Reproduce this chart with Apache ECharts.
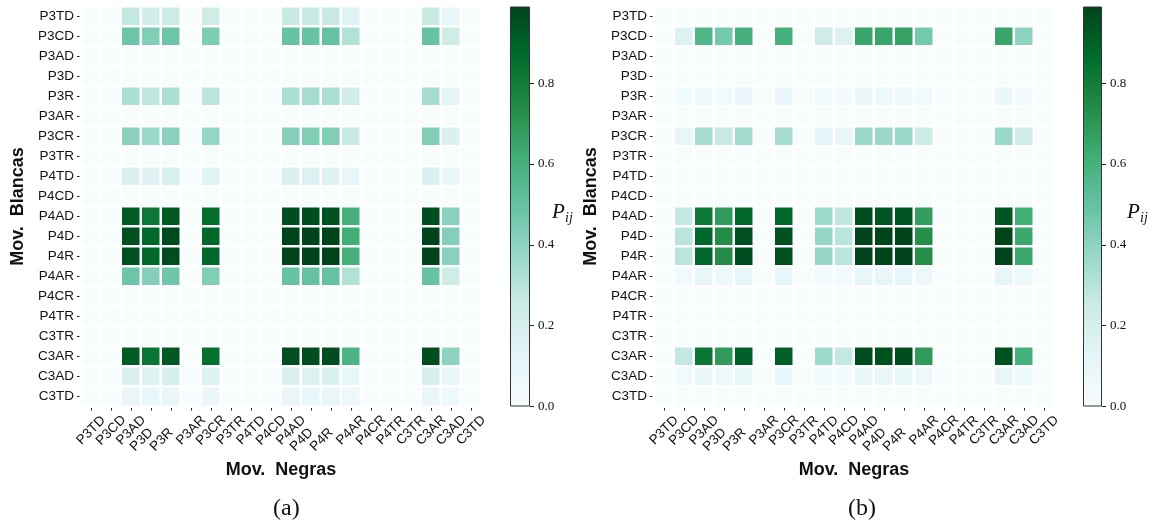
<!DOCTYPE html>
<html>
<head>
<meta charset="utf-8">
<script src="https://cdn.jsdelivr.net/npm/echarts@6/dist/echarts.min.js"></script>
<style>
  html, body { margin: 0; padding: 0; background: #fff; }
  #chart { width: 1152px; height: 527px; }
</style>
</head>
<body>
<div id="chart"></div>
<script>
// Move categories (rows: white moves, columns: black moves)
const moves = ['P3TD','P3CD','P3AD','P3D','P3R','P3AR','P3CR','P3TR','P4TD','P4CD',
               'P4AD','P4D','P4R','P4AR','P4CR','P4TR','C3TR','C3AR','C3AD','C3TD'];

// Colour bar ticks and range
const colorbarTicks = [0, 0.2, 0.4, 0.6, 0.8];
const colorMax = 0.99;

// BuGn palette
const bugn = ['#f7fcfd','#e5f5f9','#ccece6','#99d8c9','#66c2a4','#41ae76','#238b45','#006d2c','#00441b'];

// Panel (a): probability P_ij, one row per white move
const z = 0;
const panelA = [
  [z,z,.27,.22,.25,z,.24,z,z,z,.26,.26,.26,.15,z,z,z,.26,.10,z], // P3TD
  [z,z,.48,.43,.48,z,.44,z,z,z,.49,.49,.50,.31,z,z,z,.49,.24,z], // P3CD
  [z,z,z,z,z,z,z,z,z,z,z,z,z,z,z,z,z,z,z,z],                       // P3AD
  [z,z,z,z,z,z,z,z,z,z,z,z,z,z,z,z,z,z,z,z],                       // P3D
  [z,z,.33,.28,.33,z,.29,z,z,z,.33,.34,.33,.22,z,z,z,.34,.13,z], // P3R
  [z,z,z,z,z,z,z,z,z,z,z,z,z,z,z,z,z,z,z,z],                       // P3AR
  [z,z,.41,.37,.41,z,.38,z,z,z,.42,.43,.43,.26,z,z,z,.43,.18,z], // P3CR
  [z,z,z,z,z,z,z,z,z,z,z,z,z,z,z,z,z,z,z,z],                       // P3TR
  [z,z,.18,.16,.19,z,.15,z,z,z,.18,.17,.17,.10,z,z,z,.19,.08,z], // P4TD
  [z,z,z,z,z,z,z,z,z,z,z,z,z,z,z,z,z,z,z,z],                       // P4CD
  [z,z,.92,.82,.93,z,.86,z,z,z,.96,.96,.95,.60,z,z,z,.96,.41,z], // P4AD
  [z,z,.95,.88,.97,z,.88,z,z,z,.99,.99,.99,.62,z,z,z,.99,.42,z], // P4D
  [z,z,.95,.88,.96,z,.88,z,z,z,.99,.99,.99,.61,z,z,z,.99,.41,z], // P4R
  [z,z,.48,.42,.47,z,.43,z,z,z,.49,.50,.50,.31,z,z,z,.49,.24,z], // P4AR
  [z,z,z,z,z,z,z,z,z,z,z,z,z,z,z,z,z,z,z,z],                       // P4CR
  [z,z,z,z,z,z,z,z,z,z,z,z,z,z,z,z,z,z,z,z],                       // P4TR
  [z,z,z,z,z,z,z,z,z,z,z,z,z,z,z,z,z,z,z,z],                       // C3TR
  [z,z,.92,.83,.93,z,.85,z,z,z,.96,.96,.96,.58,z,z,z,.96,.40,z], // C3AR
  [z,z,.18,.16,.20,z,.16,z,z,z,.18,.17,.18,.11,z,z,z,.20,.09,z], // C3AD
  [z,z,.10,.09,.10,z,.08,z,z,z,.10,.09,.10,.07,z,z,z,.10,.06,z]  // C3TD
];

// Panel (b): probability P_ij, one row per white move
const panelB = [
  [z,z,z,z,z,z,z,z,z,z,z,z,z,z,z,z,z,z,z,z],                                // P3TD
  [z,.17,.57,.46,.60,z,.60,z,.24,.16,.65,.65,.66,.46,z,z,z,.65,.40,z],     // P3CD
  [z,z,z,z,z,z,z,z,z,z,z,z,z,z,z,z,z,z,z,z],                                // P3AD
  [z,z,z,z,z,z,z,z,z,z,z,z,z,z,z,z,z,z,z,z],                                // P3D
  [z,.04,.07,.05,.08,z,.08,z,.04,.03,.08,.07,.07,.05,z,z,z,.08,.05,z],     // P3R
  [z,z,z,z,z,z,z,z,z,z,z,z,z,z,z,z,z,z,z,z],                                // P3AR
  [z,.10,.34,.26,.35,z,.34,z,.12,.09,.37,.37,.37,.25,z,z,z,.37,.24,z],     // P3CR
  [z,z,z,z,z,z,z,z,z,z,z,z,z,z,z,z,z,z,z,z],                                // P3TR
  [z,z,z,z,z,z,z,z,z,z,z,z,z,z,z,z,z,z,z,z],                                // P4TD
  [z,z,z,z,z,z,z,z,z,z,z,z,z,z,z,z,z,z,z,z],                                // P4CD
  [z,.27,.82,.69,.88,z,.88,z,.36,.28,.96,.94,.94,.68,z,z,z,.94,.62,z],     // P4AD
  [z,.29,.88,.74,.96,z,.95,z,.38,.29,.99,.99,.99,.73,z,z,z,.99,.64,z],     // P4D
  [z,.29,.88,.74,.96,z,.95,z,.38,.29,.99,.99,.99,.73,z,z,z,.99,.64,z],     // P4R
  [z,.05,.10,.07,.11,z,.11,z,.05,.04,.11,.10,.10,.07,z,z,z,.11,.07,z],     // P4AR
  [z,z,z,z,z,z,z,z,z,z,z,z,z,z,z,z,z,z,z,z],                                // P4CR
  [z,z,z,z,z,z,z,z,z,z,z,z,z,z,z,z,z,z,z,z],                                // P4TR
  [z,z,z,z,z,z,z,z,z,z,z,z,z,z,z,z,z,z,z,z],                                // C3TR
  [z,.27,.83,.69,.91,z,.91,z,.36,.27,.96,.95,.96,.69,z,z,z,.95,.60,z],     // C3AR
  [z,.05,.09,.07,.10,z,.10,z,.05,.04,.10,.09,.09,.07,z,z,z,.10,.07,z],     // C3AD
  [z,z,z,z,z,z,z,z,z,z,z,z,z,z,z,z,z,z,z,z]                                 // C3TD
];

function toCells(matrix) {
  const out = [];
  matrix.forEach((row, r) => row.forEach((v, c) => out.push([c, r, v])));
  return out;
}

const sans = 'Liberation Sans';
const serif = 'Liberation Serif';

// Rotated x labels are centred on their tick with a common top edge;
// three-letter names get a small padding so their top lines up too.
const xCategoryItems = moves.map(m => m.length === 3
  ? { value: m, textStyle: { padding: [0, 0, 4, 4] } }
  : m);

function heatX(gridIndex) {
  return {
    type: 'category', gridIndex, data: xCategoryItems,
    axisLine: { show: false },
    axisTick: { show: true, alignWithLabel: true, length: 4, lineStyle: { color: '#222', width: 1 } },
    axisLabel: { rotate: 45, align: 'center', verticalAlign: 'middle', margin: 24,
                 fontFamily: sans, fontSize: 13.5, color: '#111', interval: 0 },
    splitArea: { show: false }, splitLine: { show: false },
    name: 'Mov.  Negras', nameLocation: 'middle', nameGap: 50,
    nameTextStyle: { fontFamily: sans, fontWeight: 'bold', fontSize: 18, color: '#111' }
  };
}
function heatY(gridIndex) {
  return {
    type: 'category', gridIndex, data: moves, inverse: true,
    axisLine: { show: false },
    axisTick: { show: true, alignWithLabel: true, length: 4, lineStyle: { color: '#222', width: 1 } },
    axisLabel: { margin: 7, fontFamily: sans, fontSize: 13.5, color: '#111', interval: 0 },
    splitArea: { show: false }, splitLine: { show: false },
    name: 'Mov.  Blancas', nameLocation: 'middle', nameGap: 54, nameRotate: 90,
    nameTextStyle: { fontFamily: sans, fontWeight: 'bold', fontSize: 18, color: '#111' }
  };
}
function barX(gridIndex) {
  return { type: 'category', gridIndex, data: [''], show: false };
}
function barY(gridIndex) {
  return {
    type: 'value', gridIndex, min: 0, max: colorMax, position: 'right',
    axisLine: { show: false },
    axisTick: { show: true, length: 4, customValues: colorbarTicks, lineStyle: { color: '#222' } },
    axisLabel: { customValues: colorbarTicks, margin: 8, fontFamily: serif, fontSize: 13, color: '#111',
                 formatter: v => v.toFixed(1) },
    splitLine: { show: false }
  };
}

const gradient = () => new echarts.graphic.LinearGradient(0, 1, 0, 0,
  bugn.map((c, i) => ({ offset: i / (bugn.length - 1), color: c })));

function heatSeries(idx, matrix) {
  return {
    type: 'heatmap', xAxisIndex: idx, yAxisIndex: idx, data: toCells(matrix),
    itemStyle: { borderColor: '#ffffff', borderWidth: 2.5 },
    emphasis: { disabled: true }
  };
}
function barSeries(idx) {
  return {
    type: 'bar', xAxisIndex: idx, yAxisIndex: idx, data: [colorMax], barWidth: '100%',
    itemStyle: { color: gradient(), borderColor: '#333', borderWidth: 1 },
    silent: true
  };
}

// Colour bar title P_ij (italic P with subscript ij)
function pijLabel(x, y) {
  const font = 'italic {s}px "' + serif + '"';
  return {
    type: 'group', left: x, top: y, silent: true,
    children: [
      { type: 'text', x: 0, y: 0, style: { text: 'P', font: font.replace('{s}', 21), fill: '#111' } },
      { type: 'text', x: 13, y: 9, style: { text: 'ij', font: font.replace('{s}', 14), fill: '#111' } }
    ]
  };
}

const chart = echarts.init(document.getElementById('chart'), null, { renderer: 'canvas' });
chart.setOption({
  animation: false,
  backgroundColor: '#ffffff',
  grid: [
    { left: 81, top: 6.5, width: 400, height: 400 },
    { left: 654, top: 6.5, width: 400, height: 400 },
    { left: 510, top: 6.5, width: 20, height: 400 },
    { left: 1083, top: 6.5, width: 19, height: 400 }
  ],
  xAxis: [heatX(0), heatX(1), barX(2), barX(3)],
  yAxis: [heatY(0), heatY(1), barY(2), barY(3)],
  visualMap: {
    type: 'continuous', show: false, min: 0, max: colorMax, seriesIndex: [0, 1],
    inRange: { color: bugn }
  },
  series: [heatSeries(0, panelA), heatSeries(1, panelB), barSeries(2), barSeries(3)],
  graphic: [pijLabel(552, 202), pijLabel(1127, 202)],
  title: [
    { text: '(a)', left: 268, top: 492,
      textStyle: { fontFamily: serif, fontWeight: 'normal', fontSize: 24, color: '#111' } },
    { text: '(b)', left: 843, top: 492,
      textStyle: { fontFamily: serif, fontWeight: 'normal', fontSize: 24, color: '#111' } }
  ]
});
</script>
</body>
</html>
